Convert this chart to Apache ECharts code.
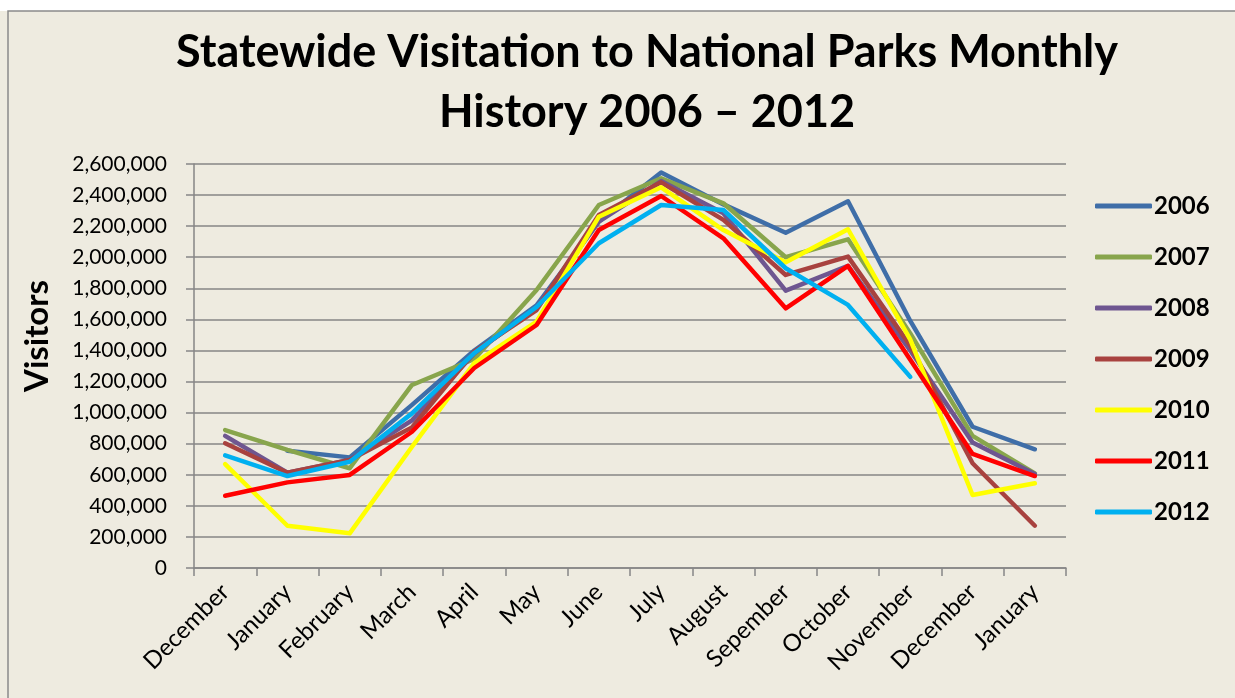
<!DOCTYPE html>
<html>
<head>
<meta charset="utf-8">
<script src="https://cdn.jsdelivr.net/npm/echarts@6/dist/echarts.min.js"></script>
<style>
html,body{margin:0;padding:0;background:#fff;}
#chart{width:1235px;height:698px;}
</style>
</head>
<body>
<div id="chart"></div>
<script>
const categories = ['December','January','February','March','April','May','June','July','August','Sepember','October','November','December','January'];
const years = ['2006','2007','2008','2009','2010','2011','2012'];
const v2006 = [null, 755000, 712000, 1050000, 1400000, 1690000, 2230000, 2545000, 2340000, 2158000, 2360000, 1590000, 909000, 764000];
const v2007 = [888000, 760000, 642000, 1178000, 1345000, 1789000, 2336000, 2508000, 2347000, 2000000, 2115000, 1510000, 850000, 609000];
const v2008 = [850000, 613000, 695000, 950000, 1380000, 1680000, 2229000, 2490000, 2283000, 1785000, 1944000, 1400000, 807000, 605000];
const v2009 = [803000, 613000, 695000, 905000, 1392000, 1660000, 2272000, 2482000, 2240000, 1886000, 2004000, 1430000, 674000, 272000];
const v2010 = [669000, 272000, 223000, 780000, 1319000, 1585000, 2261000, 2450000, 2175000, 1968000, 2180000, 1470000, 470000, 545000];
const v2011 = [465000, 551000, 599000, 877000, 1287000, 1564000, 2175000, 2394000, 2122000, 1671000, 1944000, 1340000, 734000, 592000];
const v2012 = [725000, 592000, 684000, 995000, 1384000, 1680000, 2090000, 2336000, 2304000, 1929000, 1693000, 1230000, null, null];
const seriesValues = [v2006, v2007, v2008, v2009, v2010, v2011, v2012];
const colors = ['#3F6EA8', '#88A54C', '#6E5690', '#A8423F', '#FFFF00', '#FF0000', '#00B0F0'];

const chart = echarts.init(document.getElementById('chart'), null, {renderer: 'canvas'});
const FONT = 'Lato, "Open Sans", sans-serif';
chart.setOption({
  backgroundColor: '#EEEBE0',
  animation: false,
  color: colors,
  title: {
    text: 'Statewide Visitation to National Parks Monthly\nHistory 2006 \u2013 2012',
    left: 642,
    top: 17,
    textAlign: 'center',
    textStyle: {fontFamily: FONT, fontWeight: 'bold', fontSize: 45, lineHeight: 60, color: '#000'}
  },
  graphic: [
    {type: 'rect', shape: {x: 0, y: 0, width: 1235, height: 11}, style: {fill: '#ffffff'}, silent: true},
    {type: 'rect', shape: {x: 8, y: 11, width: 1300, height: 800}, style: {fill: 'none', stroke: '#8a8a8a', lineWidth: 1.5}, silent: true}
  ],
  legend: {
    orient: 'vertical',
    left: 1090,
    top: 189,
    itemWidth: 57,
    itemHeight: 5,
    itemGap: 27,
    icon: 'roundRect',
    data: years,
    textStyle: {fontFamily: FONT, fontWeight: 'bold', fontSize: 24, color: '#000', padding: [0, 0, 0, -3]}
  },
  grid: {left: 194, right: 169, top: 164, bottom: 130, containLabel: false},
  xAxis: {
    type: 'category',
    data: categories,
    boundaryGap: true,
    axisLine: {lineStyle: {color: '#868686', width: 1.5}},
    axisTick: {show: true, length: 8, lineStyle: {color: '#868686', width: 1.5}},
    axisLabel: {rotate: 45, fontFamily: FONT, fontSize: 24, color: '#000', margin: 20, interval: 0, padding: [10, 0, 0, 0]}
  },
  yAxis: {
    type: 'value',
    min: 0,
    max: 2600000,
    interval: 200000,
    name: 'Visitors',
    nameLocation: 'middle',
    nameGap: 140,
    nameTextStyle: {fontFamily: FONT, fontWeight: 'bold', fontSize: 33, color: '#000', padding: [0, 0, 0, 60]},
    axisLine: {show: true, lineStyle: {color: '#868686', width: 1.5}},
    axisTick: {show: true, length: 8, lineStyle: {color: '#868686', width: 1.5}},
    splitLine: {lineStyle: {color: '#868686', width: 1.5}},
    axisLabel: {
      fontFamily: FONT, fontSize: 21, color: '#000', margin: 27,
      formatter: v => v.toLocaleString('en-US')
    }
  },
  series: years.map((y, i) => ({
    name: y,
    type: 'line',
    data: seriesValues[i],
    showSymbol: false,
    symbol: 'none',
    connectNulls: false,
    lineStyle: {width: 4.5, color: colors[i], cap: 'round', join: 'round'},
    itemStyle: {color: colors[i]},
    z: 2 + i
  }))
});
</script>
</body>
</html>
